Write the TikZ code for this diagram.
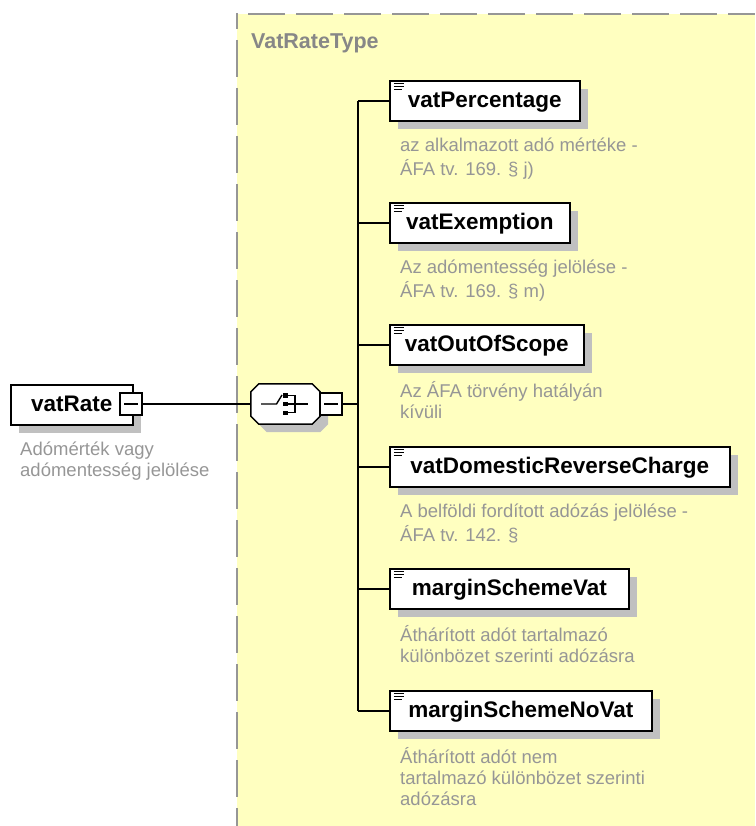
\documentclass[tikz,border=0pt]{standalone}
\usepackage{fontspec}
\setmainfont{Liberation Sans}
\usetikzlibrary{shadows}
\definecolor{bgyellow}{RGB}{255,255,192}
\definecolor{shadowgray}{RGB}{192,192,192}
\definecolor{descgray}{RGB}{150,150,150}
\definecolor{bordergray}{RGB}{150,150,150}
\definecolor{titlegray}{RGB}{135,135,135}
\newcommand\myoctpath[1]{([shift={(8,0)}]#1.north west) -- ([shift={(-8,0)}]#1.north east) -- ([shift={(0,8)}]#1.north east) -- ([shift={(0,-8)}]#1.south east) -- ([shift={(-8,0)}]#1.south east) -- ([shift={(8,0)}]#1.south west) -- ([shift={(0,-8)}]#1.south west) -- ([shift={(0,8)}]#1.north west) -- cycle}
\tikzset{
  elembox/.style={draw=black, line width=1.6pt, fill=white, rectangle,
    minimum height=40pt, inner sep=0pt, anchor=north west,
    font=\fontsize{22.5}{27}\selectfont\bfseries, text height=18pt, text depth=4pt,
    general shadow={fill=shadowgray, shadow xshift=8pt, shadow yshift=-8pt}},
  childbox/.style={elembox,
    path picture={
      \foreach \dy/\len in {3/10,6/10,9/8}
        \draw[line width=1pt] ([xshift=4pt,yshift=-\dy pt]path picture bounding box.north west) -- ++(\len pt,0pt);
    }},
  desc/.style={anchor=north west, inner sep=0pt, align=left, text=descgray,
    font=\fontsize{18.5}{21}\selectfont},
  minusbox/.style={draw=black, line width=1.5pt, fill=white, rectangle,
    minimum size=22pt, inner sep=0pt,
    path picture={\draw[line width=1.2pt] ([xshift=4pt]path picture bounding box.west) -- ([xshift=-4pt]path picture bounding box.east);}},
  seqbox/.style={rectangle, minimum width=69pt, minimum height=40pt, inner sep=0pt},
  conn/.style={line width=1.6pt, draw=black},
  borderline/.style={draw=bordergray, line width=2pt, dash pattern=on 37pt off 11pt},
}
\begin{document}
\begin{tikzpicture}[x=1pt,y=-1pt]
\useasboundingbox (0,0) rectangle (755,826);
% complex type area
\fill[bgyellow] (237,14) rectangle (755,826);
\draw[borderline, dash phase=37pt] (237,14) -- (755,14);
\draw[borderline, dash phase=21pt] (237,13) -- (237,826);
\node[anchor=base west, inner sep=0pt, text=titlegray, font=\fontsize{21.5}{26}\selectfont\bfseries] (title) at (251,49) {VatRateType};

% root element
\node[elembox, minimum width=122pt] (vatRate) at (10,384) {vatRate};
\node[minusbox] (vrm) at (131,404) {};
\node[desc] (vatRateDesc) at (20,441) {\strut Adómérték vagy\\adómentesség jelölése};

% sequence compositor
\node[seqbox] (seq) at (285.5,404) {};
\fill[shadowgray, transform canvas={shift={(8pt,-8pt)}}] \myoctpath{seq};
\draw[line width=1.5pt, fill=white] \myoctpath{seq};
\begin{scope}[shift={(seq.center)}]
  \draw[line width=1.4pt] (-24.5,0) -- (-9,0) -- (-3.5,-9);
  \fill (-2.5,-11) rectangle (2.5,-6.5);
  \fill (-2.5,-2.25) rectangle (2.5,2.25);
  \fill (-2.5,6.5) rectangle (2.5,11);
  \draw[line width=1.4pt] (2.5,-8.75) -- (9.5,-8.75) -- (9.5,8.75) -- (2.5,8.75);
  \draw[line width=1.4pt] (2.5,0) -- (22.5,0);
\end{scope}
\node[minusbox] (seqm) at (331,404) {};

% children
\node[childbox, minimum width=190pt] (c1) at (389,80) {vatPercentage};
\node[desc] (d1) at (400,137) {\strut az alkalmazott adó mértéke -\\ÁFA tv. 169. § j)};
\node[childbox, minimum width=180pt] (c2) at (389,202) {vatExemption};
\node[desc] (d2) at (400,259) {\strut Az adómentesség jelölése -\\ÁFA tv. 169. § m)};
\node[childbox, minimum width=194pt] (c3) at (389,324) {vatOutOfScope};
\node[desc] (d3) at (400,381) {\strut Az ÁFA törvény hatályán\\kívüli};
\node[childbox, minimum width=340pt] (c4) at (389,446) {vatDomesticReverseCharge};
\node[desc] (d4) at (400,503) {\strut A belföldi fordított adózás jelölése -\\ÁFA tv. 142. §};
\node[childbox, minimum width=239pt] (c5) at (389,568) {marginSchemeVat};
\node[desc] (d5) at (400,625) {\strut Áthárított adót tartalmazó\\különbözet szerinti adózásra};
\node[childbox, minimum width=262pt] (c6) at (389,690) {marginSchemeNoVat};
\node[desc] (d6) at (400,747) {\strut Áthárított adót nem\\tartalmazó különbözet szerinti\\adózásra};

% connectors
\coordinate (spTop) at (358,100);
\coordinate (spBot) at (358,710);
\draw[conn] (vrm.east) -- (seq.west);
\draw[conn] (seqm.east) -- (seqm.east -| spTop);
\draw[conn] (spTop |- c1.west) -- (spTop |- c6.west);
\foreach \c in {c1,c2,c3,c4,c5,c6}
  \draw[conn] (spTop |- \c.west) -- (\c.west);
\end{tikzpicture}
\end{document}
